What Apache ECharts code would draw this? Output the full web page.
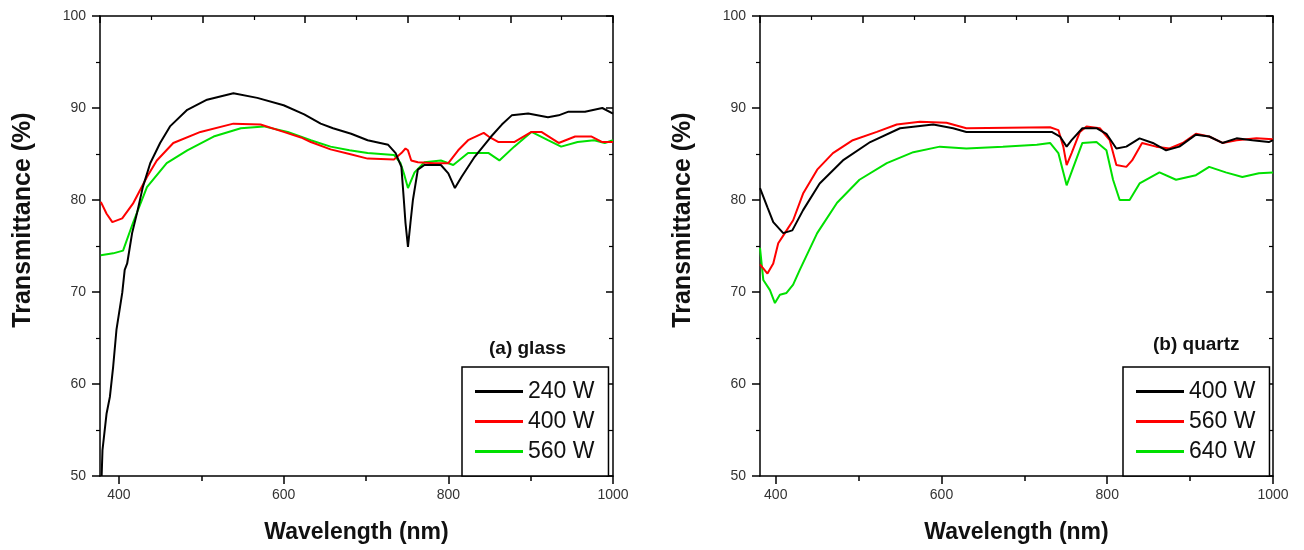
<!DOCTYPE html>
<html><head><meta charset="utf-8">
<script src="https://cdn.jsdelivr.net/npm/echarts@6/dist/echarts.min.js"></script>
<style>html,body{margin:0;padding:0;background:#fff}#c{width:1304px;height:550px}</style>
</head><body><div id="c"></div>
<script>
// ---- Data ----
const xTickLabels = [400, 600, 800, 1000];
const xMinorTicks = [500, 700, 900];
const panelTitles = ['(a) glass', '(b) quartz'];
const glassNames = ['240 W', '400 W', '560 W'];
const quartzNames = ['400 W', '560 W', '640 W'];

const glass240Wl = [379,380,385,389,393,397,404,407,410,416,422,429,438,450,462,483,507,539,568,600,625,645,660,682,702,727,736,743,746,748,751,754,757,763,771,791,800,808,816,832,852,865,877,897,921,934,946,966,987,1000];
const glass240T  = [50,52.8,56.8,58.6,61.9,65.9,69.9,72.4,73.1,76.4,78.6,81.4,84.0,86.2,88.0,89.8,90.9,91.6,91.1,90.3,89.3,88.3,87.8,87.2,86.5,86.0,85.1,83.6,80.0,77.5,74.9,77.5,80.0,83.3,83.8,83.8,82.9,81.3,82.5,84.7,86.9,88.2,89.2,89.4,89.0,89.2,89.6,89.6,90.0,89.4];

const glass400Wl = [378,385,392,404,417,434,446,466,499,539,572,600,621,633,657,680,702,734,743,748,751,755,763,783,800,812,824,843,849,861,880,901,913,934,954,974,987,1000];
const glass400T  = [79.8,78.5,77.6,78.0,79.6,82.5,84.3,86.2,87.4,88.3,88.2,87.4,86.8,86.3,85.5,85.0,84.5,84.4,85.1,85.6,85.4,84.3,84.1,84.0,84.0,85.4,86.5,87.3,86.9,86.3,86.3,87.4,87.4,86.2,86.9,86.9,86.3,86.3];

const glass560Wl = [378,393,405,417,434,458,483,515,548,576,605,633,657,680,702,734,742,746,751,759,771,791,806,824,849,862,880,901,921,937,957,977,990,1000];
const glass560T  = [74.0,74.2,74.5,77.5,81.4,84.0,85.4,86.9,87.8,88.0,87.4,86.5,85.8,85.4,85.1,84.9,84.0,82.9,81.3,83.0,84.1,84.3,83.8,85.1,85.1,84.3,85.8,87.4,86.5,85.8,86.3,86.5,86.2,86.5];

const quartz400Wl = [381,390,397,409,420,433,453,481,514,550,590,614,630,733,743,751,757,770,787,799,811,823,839,855,871,887,907,923,939,956,975,995,1000];
const quartz400T  = [81.3,79.2,77.6,76.4,76.7,78.9,81.8,84.3,86.3,87.8,88.2,87.8,87.4,87.4,86.9,85.8,86.5,87.8,87.8,87.2,85.6,85.8,86.7,86.2,85.4,85.8,87.1,86.9,86.2,86.7,86.5,86.3,86.5];

const quartz560Wl = [381,390,397,403,411,421,433,450,469,493,522,546,574,606,630,731,741,747,751,757,767,775,791,803,811,823,830,842,859,875,891,907,923,939,956,980,1000];
const quartz560T  = [73.0,72.0,73.1,75.3,76.4,77.8,80.7,83.3,85.1,86.5,87.4,88.2,88.5,88.4,87.8,87.9,87.6,85.8,83.8,85.1,87.4,88.0,87.8,86.5,83.8,83.6,84.3,86.2,85.8,85.6,86.2,87.2,86.9,86.2,86.5,86.7,86.6];

const quartz640Wl = [381,385,393,399,405,413,421,429,450,474,501,534,566,598,630,674,715,731,741,751,758,770,787,799,807,815,827,839,863,883,907,923,943,963,983,1000];
const quartz640T  = [74.8,71.3,70.2,68.8,69.7,69.9,70.8,72.4,76.4,79.7,82.2,84.0,85.2,85.8,85.6,85.8,86.0,86.2,85.1,81.6,83.3,86.2,86.3,85.4,82.2,80.0,80.0,81.8,83.0,82.2,82.7,83.6,83.0,82.5,82.9,83.0];

const colors = ['#000000', '#ff0000', '#00e000'];

// ---- Chart ----
const FONT = '"Liberation Sans", Arial, sans-serif';
const zip = (a, b) => a.map((v, i) => [v, b[i]]);

const panels = [
  {left: 100, xmin: 377, prefix: 'a|', names: glassNames,
   sets: [[glass240Wl, glass240T], [glass400Wl, glass400T], [glass560Wl, glass560T]],
   legendLeft: 462, titleLeft: 489, titleTop: 339},
  {left: 760, xmin: 381, prefix: 'b|', names: quartzNames,
   sets: [[quartz400Wl, quartz400T], [quartz560Wl, quartz560T], [quartz640Wl, quartz640T]],
   legendLeft: 1123, titleLeft: 1153, titleTop: 335}
];

const grid = [], xAxis = [], yAxis = [], series = [], legend = [], title = [];
const axisLine = {show: true, onZero: false, lineStyle: {color: '#000', width: 1.5}};

panels.forEach((p, gi) => {
  grid.push({left: p.left, top: 16, width: 513, height: 460, containLabel: false});
  // bottom axis
  xAxis.push({type: 'value', gridIndex: gi, position: 'bottom', min: p.xmin, max: 1000,
    axisLine, splitLine: {show: false},
    axisTick: {show: true, customValues: xTickLabels, length: 8, lineStyle: {color: '#000', width: 1.5}},
    axisLabel: {customValues: xTickLabels, margin: 12, fontSize: 14, color: '#333', fontFamily: FONT,
      formatter: v => String(v)},
    name: 'Wavelength (nm)', nameLocation: 'middle', nameGap: 45,
    nameTextStyle: {fontSize: 23, fontWeight: 'bold', color: '#111', fontFamily: FONT}});
  // top mirror axis
  xAxis.push({type: 'value', gridIndex: gi, position: 'top', min: 0, max: 10, interval: 2,
    axisLine, splitLine: {show: false}, axisLabel: {show: false},
    axisTick: {show: true, inside: true, length: 7, lineStyle: {color: '#000', width: 1.5}},
    minorTick: {show: true, splitNumber: 2, length: 4, lineStyle: {color: '#000', width: 1.2}}});
  // bottom minor ticks
  xAxis.push({type: 'value', gridIndex: gi, position: 'bottom', min: p.xmin, max: 1000,
    axisLine: {show: false}, splitLine: {show: false}, axisLabel: {show: false},
    axisTick: {show: true, customValues: xMinorTicks, length: 5, lineStyle: {color: '#000', width: 1.5}}});
  // left axis
  yAxis.push({type: 'value', gridIndex: gi, position: 'left', min: 50, max: 100, interval: 10,
    axisLine, splitLine: {show: false},
    axisTick: {show: true, length: 8, lineStyle: {color: '#000', width: 1.5}},
    minorTick: {show: true, splitNumber: 2, length: 4, lineStyle: {color: '#000', width: 1.2}},
    axisLabel: {margin: 14, fontSize: 14, color: '#333', fontFamily: FONT},
    name: 'Transmittance (%)', nameLocation: 'middle', nameGap: 64,
    nameTextStyle: {fontSize: 25, fontWeight: 'bold', color: '#111', fontFamily: FONT, padding: [0, 0, 0, 52]}});
  // right mirror axis
  yAxis.push({type: 'value', gridIndex: gi, position: 'right', min: 50, max: 100, interval: 10,
    axisLine, splitLine: {show: false}, axisLabel: {show: false},
    axisTick: {show: true, inside: true, length: 7, lineStyle: {color: '#000', width: 1.5}},
    minorTick: {show: true, splitNumber: 2, length: 4, lineStyle: {color: '#000', width: 1.2}}});

  p.sets.forEach((s, si) => {
    series.push({type: 'line', name: p.prefix + p.names[si], xAxisIndex: gi * 3, yAxisIndex: gi * 2,
      data: zip(s[0], s[1]), symbol: 'none', showSymbol: false, clip: true,
      lineStyle: {color: colors[si], width: 2}, itemStyle: {color: colors[si]}, z: 3 - si + 2});
  });

  legend.push({orient: 'vertical', left: p.legendLeft, top: 367,
    data: p.names.map(n => ({name: p.prefix + n, icon: 'rect'})),
    formatter: n => n.split('|')[1],
    itemWidth: 48, itemHeight: 3, itemGap: 7,
    padding: [13, 14, 13, 13],
    borderColor: '#000', borderWidth: 1.5, backgroundColor: '#fff',
    selectedMode: false,
    textStyle: {fontSize: 23, color: '#111', fontFamily: FONT, lineHeight: 23}});

  title.push({text: panelTitles[gi], left: p.titleLeft, top: p.titleTop, padding: 0,
    textStyle: {fontSize: 19, fontWeight: 'bold', color: '#111', fontFamily: FONT}});
});

const chart = echarts.init(document.getElementById('c'), null, {renderer: 'canvas'});
chart.setOption({animation: false, backgroundColor: '#fff', grid, xAxis, yAxis, series, legend, title});
</script>
</body></html>
